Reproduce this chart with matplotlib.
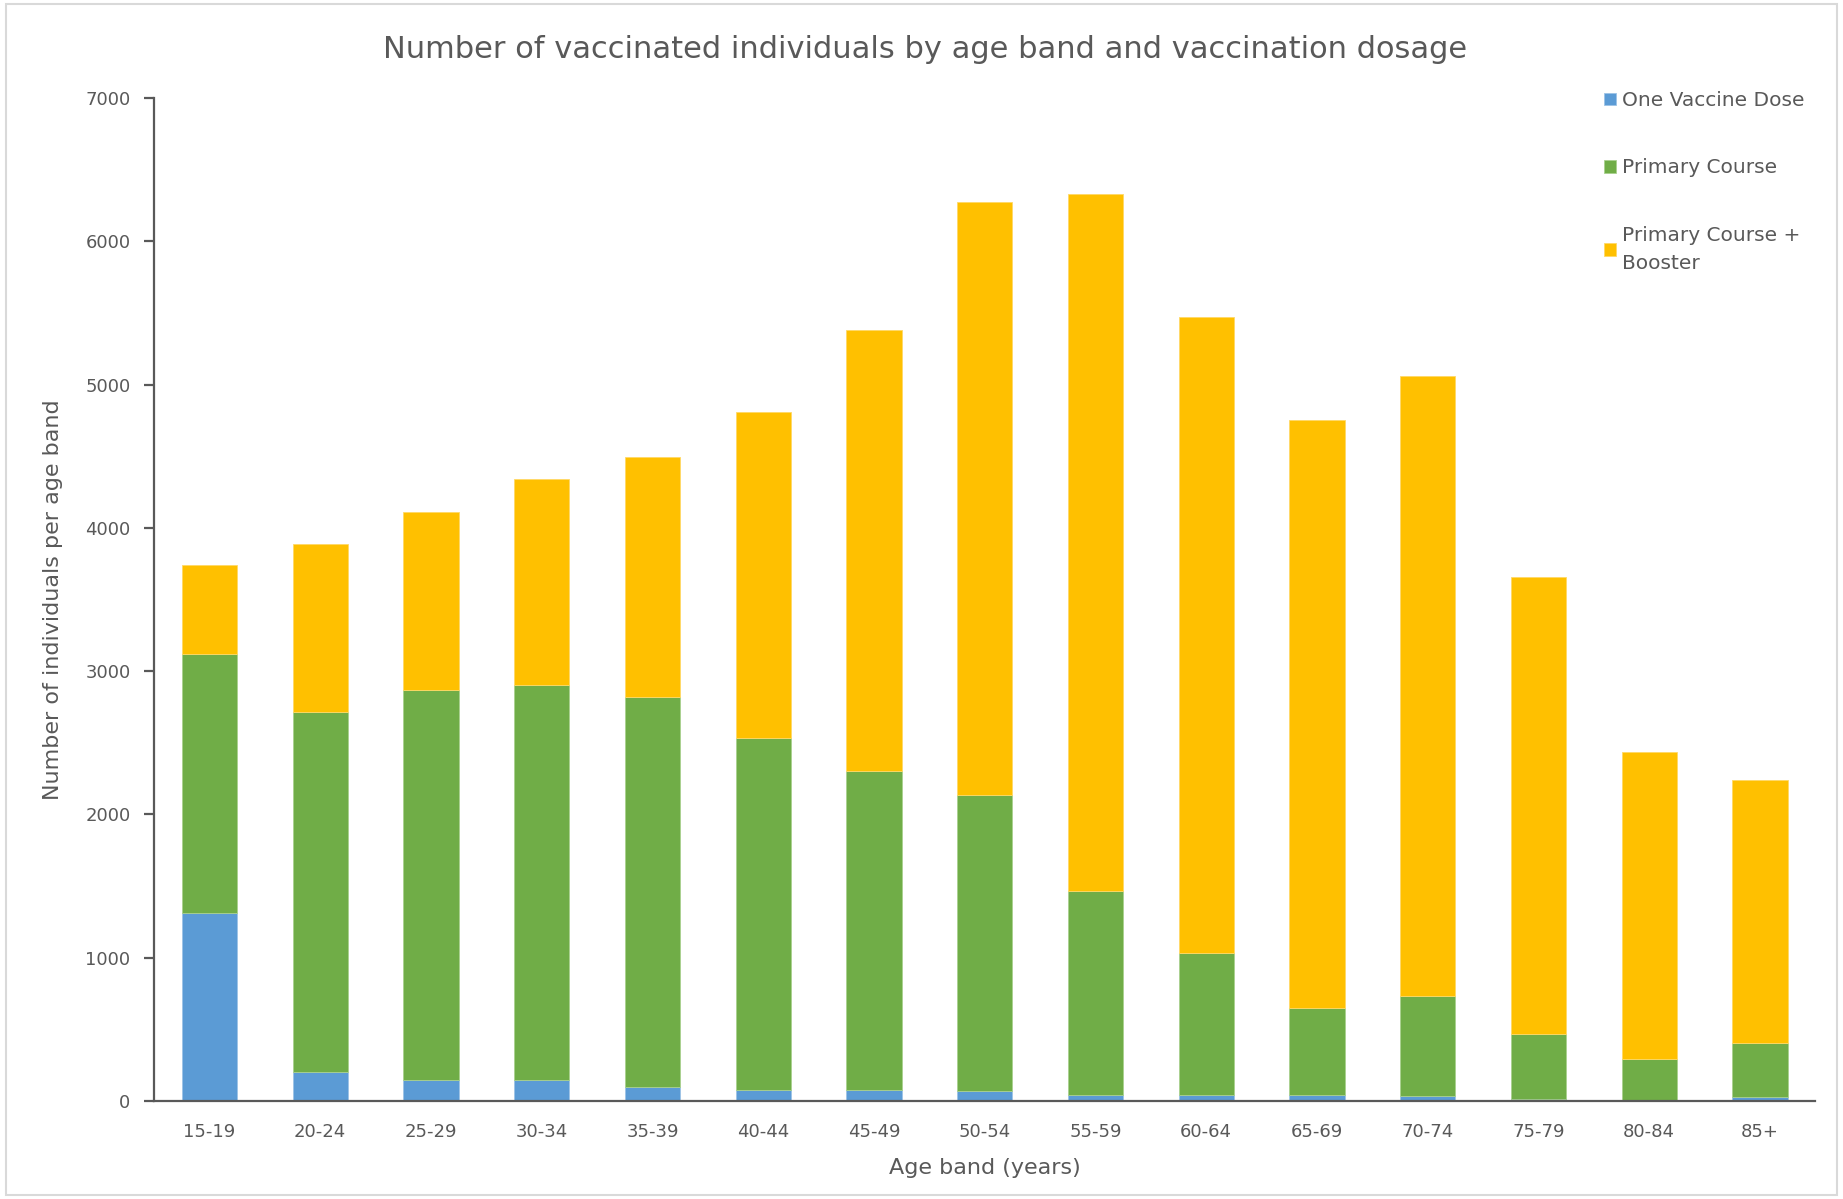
import numpy as np
import matplotlib.pyplot as plt
from matplotlib.patches import Rectangle

# Data
age_bands = ['15-19', '20-24', '25-29', '30-34', '35-39', '40-44', '45-49', '50-54',
             '55-59', '60-64', '65-69', '70-74', '75-79', '80-84', '85+']
one_dose = [1310, 200, 150, 150, 98, 80, 80, 72, 42, 42, 42, 33, 16, 5, 28]
primary_top = [3117, 2715, 2871, 2904, 2822, 2535, 2305, 2133, 1468, 1034, 648, 730, 468, 295, 402]
booster_top = [3741, 3888, 4110, 4340, 4495, 4807, 5381, 6276, 6333, 5472, 4750, 5061, 3659, 2436, 2240]

primary = np.array(primary_top) - np.array(one_dose)
booster = np.array(booster_top) - np.array(primary_top)

text_col = '#595959'
plt.rcParams['font.family'] = ['DejaVu Sans']

fig = plt.figure(figsize=(18.43, 11.99), dpi=100)
ax = fig.add_axes([0.0836, 0.0817, 0.9014, 0.8366])

x = np.arange(len(age_bands))
w = 0.5
ax.bar(x, one_dose, w, color='#5B9BD5', edgecolor='#9DC3E6', linewidth=0.6, label='One Vaccine Dose')
ax.bar(x, primary, w, bottom=one_dose, color='#70AD47', edgecolor='#A9D18E', linewidth=0.6,
       label='Primary Course')
ax.bar(x, booster, w, bottom=primary_top, color='#FFC000', edgecolor='#FFD966', linewidth=0.6,
       label='Primary Course +\nBooster')

ax.set_xlim(-0.5, len(age_bands) - 0.5)
ax.set_ylim(0, 7000)
ax.set_yticks(range(0, 7001, 1000))
ax.set_xticks(x)
ax.set_xticklabels(age_bands)

for s in ['top', 'right']:
    ax.spines[s].set_visible(False)
for s in ['left', 'bottom']:
    ax.spines[s].set_color('#595959')
    ax.spines[s].set_linewidth(1.6)
ax.tick_params(axis='y', length=7, width=1.6, color='#595959', labelsize=13, labelcolor=text_col, pad=10)
ax.tick_params(axis='x', length=0, labelsize=13, labelcolor=text_col, pad=16)

fig.text(0.502, 0.959, 'Number of vaccinated individuals by age band and vaccination dosage',
         fontsize=22, color=text_col, ha='center', va='center')
ax.set_xlabel('Age band (years)', fontsize=16, color=text_col, labelpad=12)
ax.set_ylabel('Number of individuals per age band', fontsize=16, color=text_col, labelpad=16)

leg = ax.legend(loc='upper left', bbox_to_anchor=(0.862, 1.025), frameon=False, fontsize=14.5,
                labelcolor=text_col, handlelength=0.6, handleheight=0.6, handletextpad=0.3,
                labelspacing=2.4)
for t in leg.get_texts():
    t.set_linespacing(1.6)

# light grey chart-area border
fig.patches.append(Rectangle((0.003, 0.003), 0.994, 0.994, transform=fig.transFigure,
                             fill=False, edgecolor='#D9D9D9', linewidth=1.5))

plt.savefig('out.png', dpi=100)
